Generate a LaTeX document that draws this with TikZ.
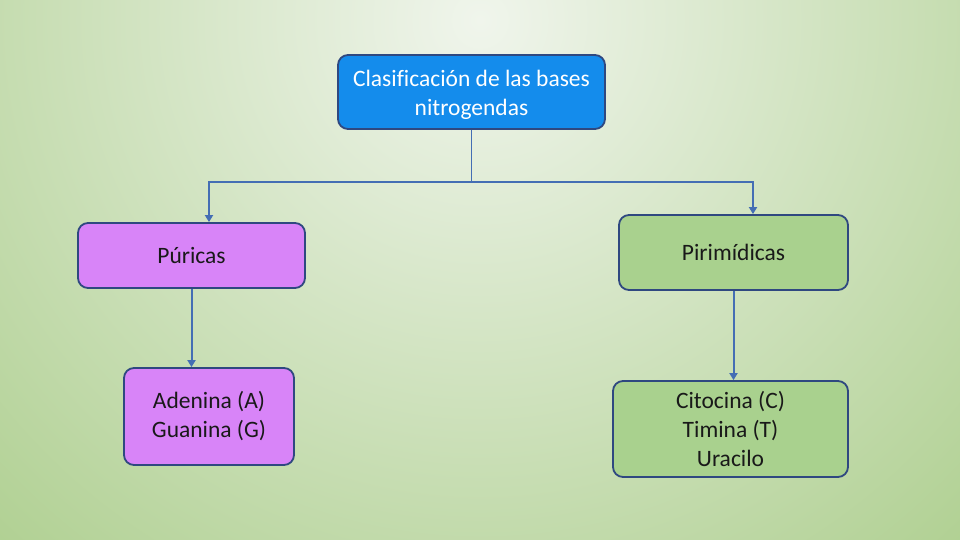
\documentclass[tikz,border=0pt]{standalone}
\usepackage{fontspec}
\setmainfont[Ligatures=NoCommon]{Carlito}
\usetikzlibrary{arrows.meta}
\definecolor{bgin}{RGB}{240,245,236}
\definecolor{bgout}{RGB}{176,208,146}
\definecolor{topfill}{RGB}{20,140,236}
\definecolor{edge}{RGB}{47,72,128}
\definecolor{violetfill}{RGB}{216,132,248}
\definecolor{greenfill}{RGB}{169,209,142}
\definecolor{conn}{RGB}{68,110,180}
\tikzset{
  box/.style={draw=edge, line width=1.8pt, rounded corners=10pt, align=center,
    inner sep=0pt, font=\fontsize{23.5}{29}\selectfont, text=black!90},
  lbl/.style={align=center, inner sep=0pt, font=\fontsize{23.5}{29}\selectfont},
  arr/.style={draw=conn, line width=2pt, -{Triangle[length=7pt,width=8pt]}},
  plain/.style={draw=conn, line width=1.2pt}
}
\begin{document}
\begin{tikzpicture}[x=1pt,y=-1pt]
\useasboundingbox (0,0) rectangle (960,540);
\begin{scope}
\clip (0,0) rectangle (960,540);
\shade[inner color=bgin, outer color=bgout] (480,20) circle (720);
\end{scope}
\node[box, fill=topfill, minimum width=267pt, minimum height=74pt] (top) at (471.5,92) {};
\node[lbl, text=white] (toptext) at ([yshift=-3pt]top.center) {Clasificación de las bases\\nitrogendas};
\node[box, fill=violetfill, minimum width=227pt, minimum height=65pt] (pur) at (191.5,255.5) {Púricas};
\node[box, fill=greenfill, minimum width=229pt, minimum height=75pt] (pir) at (733.5,252.5) {Pirimídicas};
\node[box, fill=violetfill, minimum width=170pt, minimum height=97pt] (ade) at (209,416.5) {Adenina (A)\\Guanina (G)};
\node[box, fill=greenfill, minimum width=235pt, minimum height=96pt] (cit) at (730.5,429) {Citocina (C)\\Timina (T)\\Uracilo};
\draw[plain] (top.south) -- ++(0,52) coordinate (j);
\draw[arr] (j) -| ([xshift=17.5pt]pur.north);
\draw[arr] (j) -| ([xshift=19.5pt]pir.north);
\draw[arr] (pur.south) -- (pur.south |- ade.north);
\draw[arr] (pir.south) -- (pir.south |- cit.north);
\end{tikzpicture}
\end{document}
